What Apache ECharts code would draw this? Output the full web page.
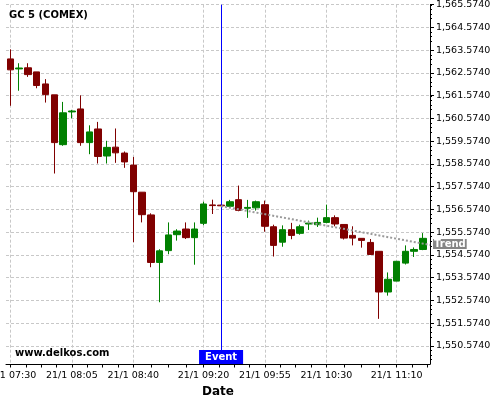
<!DOCTYPE html>
<html><head><meta charset="utf-8">
<script src="https://cdn.jsdelivr.net/npm/echarts@6/dist/echarts.min.js"></script>
<style>html,body{margin:0;padding:0;background:#fff}#c{width:500px;height:400px}</style>
</head><body><div id="c"></div>
<script>
// 5-minute candles, 21/1 07:30 .. 11:25
const openV  = [1563.19,1562.75,1562.80,1562.62,1562.09,1561.61,1559.42,1560.86,1560.99,1559.51,1560.11,1558.92,1559.31,1559.05,1558.52,1557.33,1556.33,1554.24,1554.76,1555.46,1555.71,1555.33,1555.96,1556.77,1556.76,1556.71,1557.00,1556.62,1556.64,1556.78,1555.81,1555.13,1555.68,1555.52,1555.93,1555.90,1556.00,1556.21,1555.91,1555.43,1555.30,1555.12,1554.73,1552.94,1553.42,1554.21,1554.73,1554.81];
const closeV = [1562.71,1562.79,1562.50,1562.02,1561.62,1559.51,1560.82,1560.90,1559.51,1559.98,1558.90,1559.30,1559.06,1558.66,1557.35,1556.34,1554.24,1554.75,1555.45,1555.62,1555.33,1555.71,1556.81,1556.74,1556.73,1556.91,1556.53,1556.66,1556.91,1555.83,1554.99,1555.68,1555.43,1555.81,1555.97,1556.00,1556.21,1555.93,1555.31,1555.31,1555.21,1554.59,1552.94,1553.50,1554.29,1554.73,1554.81,1555.30];
const lowV   = [1561.13,1561.79,1562.40,1561.90,1561.27,1558.15,1559.37,1560.58,1559.37,1559.00,1558.59,1558.59,1558.62,1558.40,1555.13,1556.00,1554.03,1552.49,1554.60,1555.20,1555.27,1554.14,1555.88,1556.37,1556.72,1556.64,1556.49,1556.20,1556.52,1555.59,1554.50,1554.93,1555.26,1555.46,1555.67,1555.80,1555.96,1555.83,1555.25,1554.99,1554.89,1554.58,1551.76,1552.78,1553.42,1554.15,1554.48,1554.78];
const highV  = [1563.61,1563.00,1563.00,1562.62,1562.30,1561.61,1561.30,1560.95,1561.59,1560.27,1560.42,1559.59,1560.13,1559.12,1558.88,1557.33,1556.40,1554.82,1556.00,1555.70,1556.00,1556.00,1556.91,1557.00,1556.78,1556.99,1557.62,1556.99,1556.96,1556.96,1555.90,1555.87,1555.98,1555.90,1556.08,1556.21,1556.78,1556.31,1555.91,1555.83,1555.30,1555.27,1554.73,1553.80,1554.29,1554.99,1554.90,1555.53];

const xLabelIdx = [0, 7, 14, 22, 29, 36, 44];
const xLabels   = ['21/1 07:30','21/1 08:05','21/1 08:40','21/1 09:20','21/1 09:55','21/1 10:30','21/1 11:10'];
const xMinorIdx = [1.75,3.5,5.25, 8.75,10.5,12.25, 16,18,20, 23.75,25.5,27.25, 30.75,32.5,34.25, 38,40,42, 45.75,47.5];
const yTicks = [1550.574,1551.574,1552.574,1553.574,1554.574,1555.574,1556.574,1557.574,1558.574,1559.574,1560.574,1561.574,1562.574,1563.574,1564.574,1565.574];

const eventIdx = 24;
const eventText = 'Event';
const trendX = [24, 47.8];
const trendY = [1556.72, 1555.01];
const trendText = 'Trend';

const titleText = 'GC 5 (COMEX)';
const siteText = 'www.delkos.com';
const xName = 'Date';

const X_MIN = -0.5, X_MAX = 47.8;
const Y_MIN = 1549.774, Y_MAX = 1565.574;

const FONT = 'DejaVu Sans';
const fmtY = v => {
  const s = v.toFixed(4).split('.');
  return s[0].replace(/\B(?=(\d{3})+(?!\d))/g, ',') + '.' + s[1];
};

const chart = echarts.init(document.getElementById('c'), null, {renderer: 'canvas'});
const grid = {left: 6, right: 70, top: 4.7, bottom: 36, containLabel: false, outerBoundsMode: 'none'};
const dashed = {show: true, lineStyle: {color: '#c8c8c8', width: 1, type: [3, 2]}};

chart.setOption({
  animation: false,
  backgroundColor: '#fff',
  textStyle: {fontFamily: FONT},
  title: [
    {text: titleText, left: 9, top: 10, padding: 0,
     textStyle: {fontSize: 10, fontWeight: 'bold', color: '#000', fontFamily: FONT}},
    {text: siteText, left: 15, top: 348, padding: 0,
     textStyle: {fontSize: 10, fontWeight: 'bold', color: '#000', fontFamily: FONT}}
  ],
  grid: grid,
  xAxis: [
    {type: 'value', position: 'bottom', min: X_MIN, max: X_MAX,
     name: xName, nameLocation: 'middle', nameGap: 16,
     nameTextStyle: {fontSize: 12, fontWeight: 'bold', color: '#000', fontFamily: FONT},
     axisLine: {show: true, onZero: false, lineStyle: {color: '#000', width: 1}},
     axisTick: {show: true, length: 3.5, customValues: xLabelIdx, lineStyle: {color: '#000'}},
     axisLabel: {show: true, customValues: xLabelIdx, margin: 7, fontSize: 9.5, color: '#000', fontFamily: FONT,
       formatter: v => { const k = xLabelIdx.indexOf(Math.round(v)); return k >= 0 ? xLabels[k] : ''; }},
     splitLine: dashed},
    {type: 'value', position: 'bottom', min: X_MIN, max: X_MAX,
     axisLine: {show: false},
     axisTick: {show: true, length: 3.5, customValues: xMinorIdx, lineStyle: {color: '#000'}},
     axisLabel: {show: false},
     splitLine: {show: false}}
  ],
  yAxis: {
    type: 'value', position: 'right', min: Y_MIN, max: Y_MAX, interval: 1,
    axisLine: {show: true, onZero: false, lineStyle: {color: '#000', width: 1}},
    axisTick: {show: true, length: 4, customValues: yTicks, lineStyle: {color: '#000'}},
    minorTick: {show: true, splitNumber: 5, length: 2, lineStyle: {color: '#000'}},
    axisLabel: {show: true, customValues: yTicks, margin: 6, fontSize: 9.5, color: '#000', fontFamily: FONT, formatter: fmtY},
    splitLine: dashed
  },
  series: [
    {
      type: 'candlestick', xAxisIndex: 0, yAxisIndex: 0,
      data: openV.map((o, i) => [i, o, closeV[i], lowV[i], highV[i]]),
      encode: {x: 0, y: [1, 2, 3, 4]},
      barWidth: 7,
      itemStyle: {color: '#008000', color0: '#800000', borderColor: '#008000', borderColor0: '#800000', borderWidth: 1},
      markLine: {
        silent: true, symbol: 'none', animation: false,
        lineStyle: {color: '#0000ff', width: 1, type: 'solid'},
        label: {show: true, position: 'start', formatter: eventText, distance: [0, -14],
          backgroundColor: '#0000ff', color: '#fff', fontWeight: 'bold', fontSize: 10,
          fontFamily: FONT, padding: [1, 6], lineHeight: 12},
        data: [[{xAxis: eventIdx, yAxis: Y_MIN}, {xAxis: eventIdx, yAxis: Y_MAX}]]
      }
    },
    {
      type: 'line', xAxisIndex: 0, yAxisIndex: 0, z: 5, clip: false,
      data: trendX.map((x, i) => [x, trendY[i]]),
      symbol: 'none',
      lineStyle: {color: '#9a9a9a', width: 2, type: [2, 2]},
      markPoint: {
        silent: true, animation: false, symbol: 'circle', symbolSize: 0,
        itemStyle: {color: 'rgba(0,0,0,0)'},
        label: {show: true, position: 'right', distance: 3, offset: [0, -1], formatter: trendText,
          backgroundColor: '#858585', color: '#ffffff', fontWeight: 'bold', fontSize: 10,
          fontFamily: FONT, padding: [0, 1], lineHeight: 10},
        data: [{coord: [trendX[1], trendY[1]]}]
      }
    }
  ]
});
</script>
</body></html>
